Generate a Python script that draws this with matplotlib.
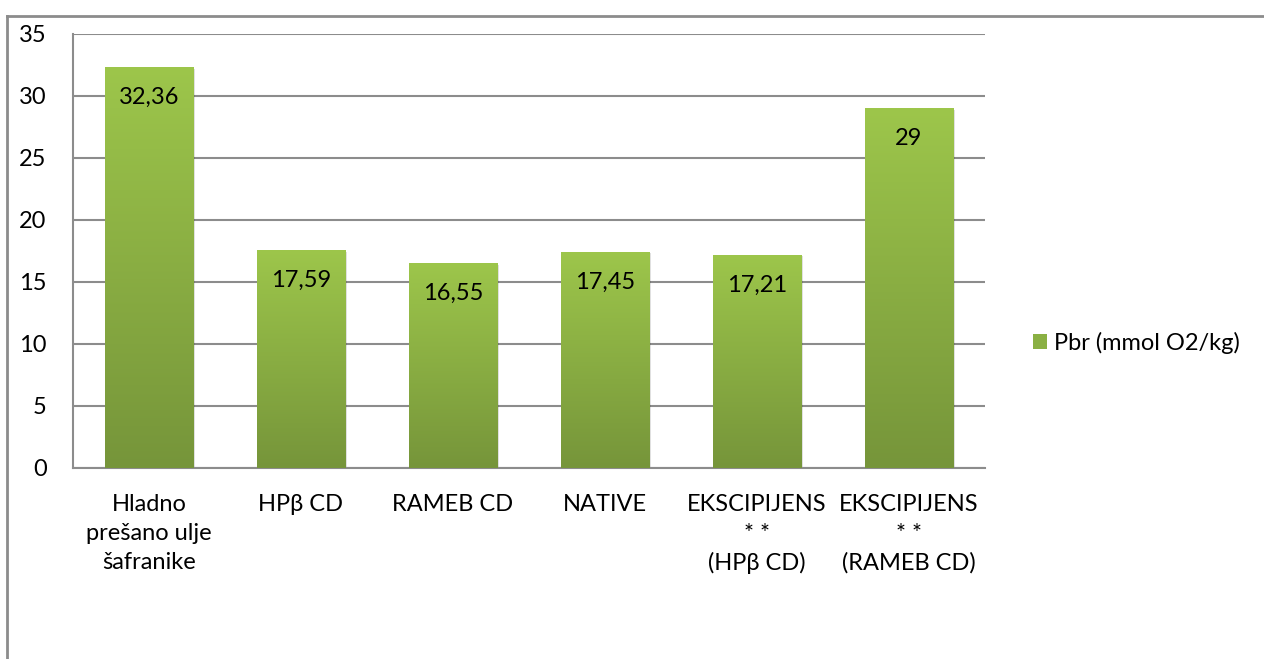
import numpy as np
import matplotlib
matplotlib.use("Agg")
import matplotlib.pyplot as plt
from matplotlib.colors import LinearSegmentedColormap
from matplotlib.lines import Line2D
from matplotlib.patches import Rectangle

categories = [
    "Hladno\nprešano ulje\nšafranike",
    "HPβ CD",
    "RAMEB CD",
    "NATIVE",
    "EKSCIPIJENS\n* *\n(HPβ CD)",
    "EKSCIPIJENS\n* *\n(RAMEB CD)",
]
values = [32.36, 17.59, 16.55, 17.45, 17.21, 29]
series_name = "Pbr (mmol O2/kg)"
y_ticks = [0, 5, 10, 15, 20, 25, 30, 35]

plt.rcParams["font.family"] = ["Lato", "DejaVu Sans"]
FS = 17

fig = plt.figure(figsize=(12.64, 6.59), dpi=100)
ax = fig.add_axes([73 / 1264, 1 - 468 / 659, 912 / 1264, 434 / 659])

x = np.arange(len(categories))
bars = ax.bar(x, values, width=0.58, color="none", zorder=3)

# green vertical gradient, light at top
cmap = LinearSegmentedColormap.from_list("g", ["#76953a", "#9dc64b"])
grad = np.linspace(0, 1, 256).reshape(-1, 1)
for b in bars:
    x0, w, h = b.get_x(), b.get_width(), b.get_height()
    # soft shadow
    ax.add_patch(Rectangle((x0 + 0.012, -0.15), w, h, facecolor="#000000",
                           alpha=0.12, edgecolor="none", zorder=2))
    im = ax.imshow(grad, cmap=cmap, origin="lower", aspect="auto",
                   extent=(x0, x0 + w, 0, h), zorder=3)
    im.set_clip_path(b)

for xi, v in zip(x, values):
    label = f"{v:g}".replace(".", ",")
    ax.annotate(label, xy=(xi, v), xytext=(0, -22), textcoords="offset points",
                ha="center", va="center", fontsize=FS, color="black", zorder=5)

ax.set_xlim(-0.5, len(categories) - 0.5)
ax.set_ylim(0, 35)
ax.set_yticks(y_ticks)
ax.set_yticklabels([str(t) for t in y_ticks], fontsize=FS)
ax.set_xticks(x)
ax.set_xticklabels(categories, fontsize=FS, linespacing=1.45, va="top")
ax.tick_params(length=0)
ax.tick_params(axis="y", pad=19)
ax.tick_params(axis="x", pad=19)
ax.yaxis.grid(True, color="#8c8c8c", lw=1.5, zorder=1)
ax.set_axisbelow(True)
for side in ["top", "right"]:
    ax.spines[side].set_visible(False)
for side in ["left", "bottom"]:
    ax.spines[side].set_color("#8c8c8c")
    ax.spines[side].set_linewidth(1.5)

# legend
handle = Rectangle((0, 0), 1, 1, facecolor="#8ab043", edgecolor="none")
fig.legend([handle], [series_name], loc="center left",
           bbox_to_anchor=(1012 / 1264, 1 - 343 / 659), frameon=False,
           fontsize=FS, handlelength=0.6, handleheight=0.6, handletextpad=0.3)

# outer chart border (top and left visible)
fig.add_artist(Line2D([7 / 1264, 1], [1 - 16 / 659, 1 - 16 / 659],
                      transform=fig.transFigure, color="#8c8c8c", lw=2))
fig.add_artist(Line2D([7 / 1264, 7 / 1264], [0, 1 - 16 / 659],
                      transform=fig.transFigure, color="#8c8c8c", lw=2))

fig.savefig("out.png", dpi=100)
